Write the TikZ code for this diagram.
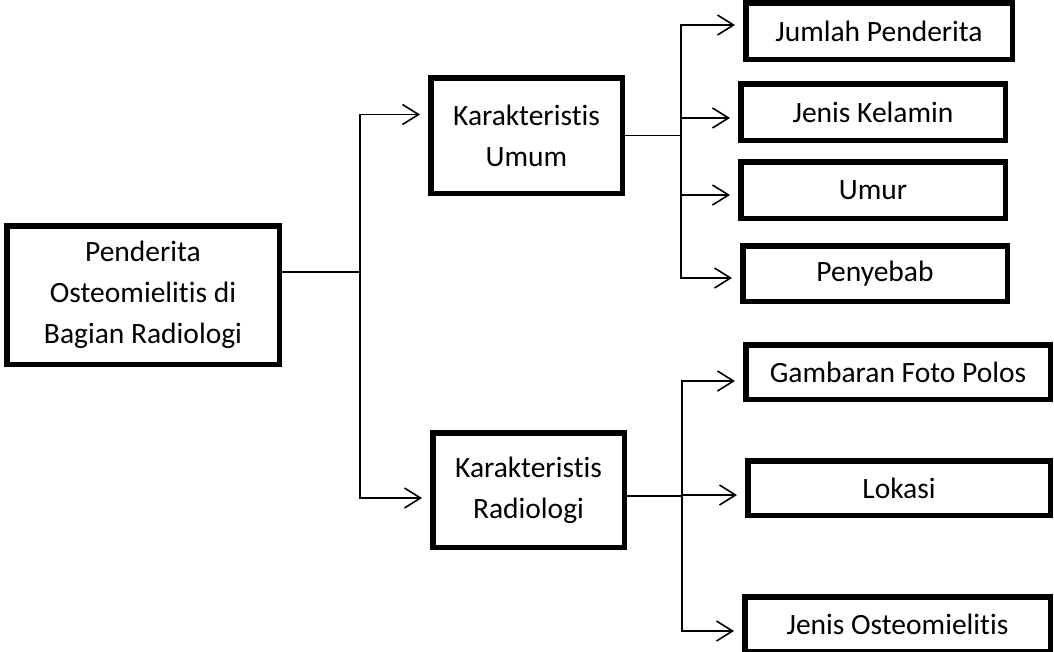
\documentclass[tikz,border=0pt]{standalone}
\usepackage{fontspec}
\setmainfont[Ligatures=NoCommon]{Carlito}
\usetikzlibrary{arrows.meta}

\begin{document}
\begin{tikzpicture}[x=1pt, y=-1pt,
        >={Straight Barb[length=16pt,width=20pt]},
        kotak/.style={draw, line width=5.5pt, inner sep=0pt, align=center,
            font=\fontsize{29.5}{41}\selectfont},
        garis/.style={line width=1.6pt},
        panah/.style={garis, ->, shorten >=8pt}]
        \useasboundingbox (0,0) rectangle (1054,651);

        \node[kotak, minimum width=272.5pt, minimum height=138.5pt] (pasien) at (143,295) {Penderita\\Osteomielitis di\\Bagian Radiologi};
        \node[kotak, minimum width=191.5pt, minimum height=115.5pt] (umum) at (526.5,135.5) {Karakteristis\\Umum};
        \node[kotak, minimum width=191.5pt, minimum height=114.5pt] (radio) at (528.5,490) {Karakteristis\\Radiologi};

        \node[kotak, minimum width=266.5pt, minimum height=56.5pt] (jumlah) at (879,31) {Jumlah Penderita};
        \node[kotak, minimum width=264.5pt, minimum height=56.5pt] (kelamin) at (873,112) {Jenis Kelamin};
        \node[kotak, minimum width=264.5pt, minimum height=56.5pt] (umur) at (873,190) {Umur};
        \node[kotak, minimum width=264.5pt, minimum height=55.5pt] (sebab) at (875,273.5) {Penyebab};

        \node[kotak, minimum width=304.5pt, minimum height=54.5pt] (foto) at (898,372) {Gambaran Foto Polos};
        \node[kotak, minimum width=302.5pt, minimum height=54.5pt] (lokasi) at (899,488) {Lokasi};
        \node[kotak, minimum width=305.5pt, minimum height=54.5pt] (jenis) at (897.5,624) {Jenis Osteomielitis};

        \coordinate (cabang) at (360,272);
        \coordinate (cabangA) at (681,136);
        \coordinate (cabangB) at (682,496);

        \draw[garis] ([yshift=23pt]pasien.east) -- (cabang);
        \draw[panah] (cabang) |- ([yshift=21pt]umum.west);
        \draw[panah] (cabang) |- ([yshift=-8pt]radio.west);

        \draw[garis] (umum.east) -- (umum.east -| cabangA);
        \draw[panah] (cabangA) |- ([yshift=6pt]jumlah.west);
        \draw[panah] (cabangA) |- ([yshift=-6pt]kelamin.west);
        \draw[panah] (cabangA) |- ([yshift=-5pt]umur.west);
        \draw[panah] (cabangA) |- ([yshift=-4.5pt]sebab.west);

        \draw[garis] ([yshift=-6pt]radio.east) -- (cabangB);
        \draw[panah] (cabangB) |- ([yshift=-9pt]foto.west);
        \draw[panah] (cabangB) |- ([yshift=-7pt]lokasi.west);
        \draw[panah] (cabangB) |- ([yshift=-7pt]jenis.west);
    \end{tikzpicture}
\end{document}
